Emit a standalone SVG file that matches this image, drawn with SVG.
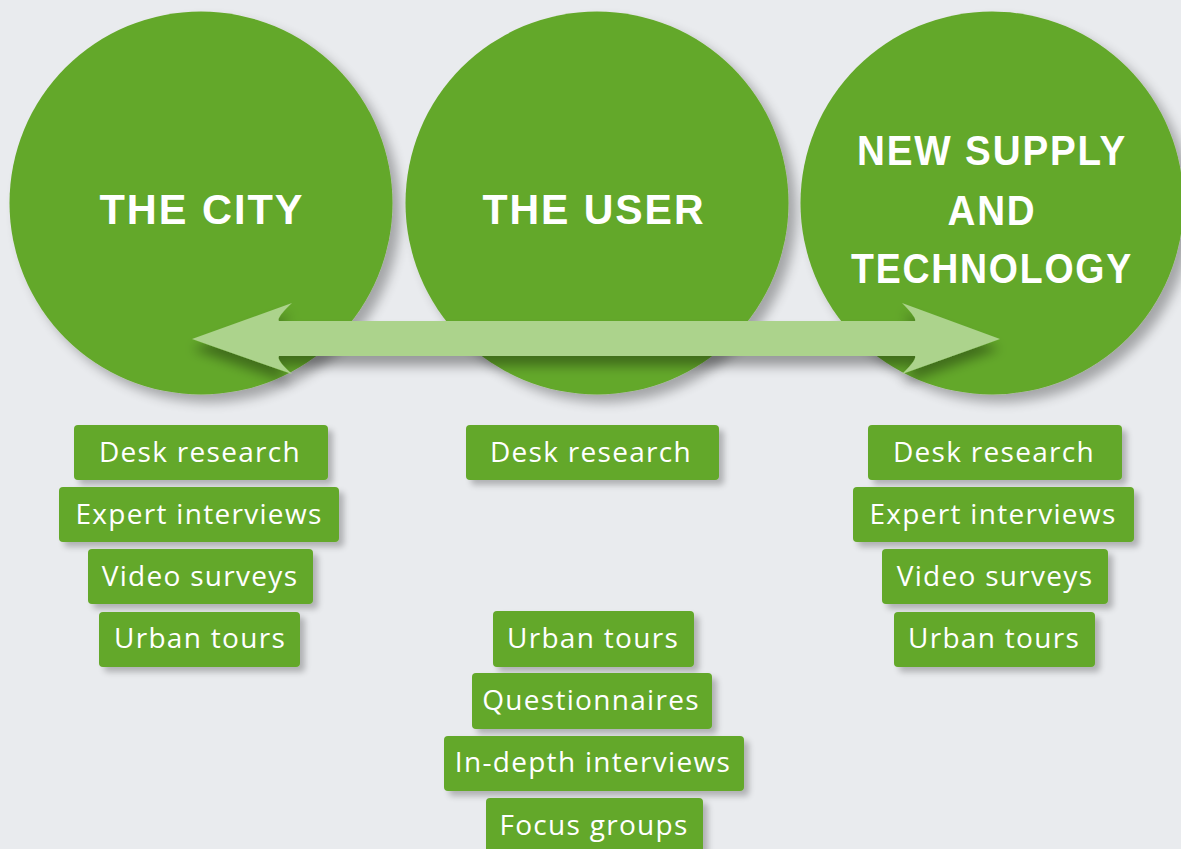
<svg xmlns="http://www.w3.org/2000/svg" width="1181" height="849" viewBox="0 0 1181 849">
<defs>
<style>
.bg{fill:#e9ebee}
.circ{fill:#64a829}
.box{fill:#64a829}
.title{font-family:"Liberation Sans",Arial,sans-serif;font-weight:bold;font-size:42px;letter-spacing:2px;fill:#fff;text-anchor:middle}
.lbl{font-family:"Open Sans","Liberation Sans",Arial,sans-serif;font-size:28px;letter-spacing:1.3px;fill:#fff;text-anchor:middle}
.arrow{fill:#acd38c}
</style>
<filter id="shC" x="-20%" y="-20%" width="150%" height="150%">
<feGaussianBlur in="SourceAlpha" stdDeviation="6"/>
<feOffset dx="8" dy="8" result="b"/>
<feComponentTransfer><feFuncA type="linear" slope="0.3"/></feComponentTransfer>
<feMerge><feMergeNode/><feMergeNode in="SourceGraphic"/></feMerge>
</filter>
<filter id="shB" x="-20%" y="-40%" width="150%" height="200%">
<feGaussianBlur in="SourceAlpha" stdDeviation="3"/>
<feOffset dx="5" dy="5" result="b"/>
<feComponentTransfer><feFuncA type="linear" slope="0.25"/></feComponentTransfer>
<feMerge><feMergeNode/><feMergeNode in="SourceGraphic"/></feMerge>
</filter>
<filter id="shA" x="-10%" y="-50%" width="120%" height="250%">
<feGaussianBlur in="SourceAlpha" stdDeviation="6"/>
<feOffset dx="0" dy="10" result="b"/>
<feComponentTransfer><feFuncA type="linear" slope="0.35"/></feComponentTransfer>
<feMerge><feMergeNode/><feMergeNode in="SourceGraphic"/></feMerge>
</filter>
</defs>
<rect class="bg" x="0" y="0" width="1181" height="849"/>

<g id="city">
<circle class="circ" cx="201" cy="203" r="191.5" filter="url(#shC)"/>
<text class="title" x="202" y="224" textLength="205" lengthAdjust="spacingAndGlyphs">THE CITY</text>
</g>
<g id="user">
<circle class="circ" cx="597" cy="203" r="191.5" filter="url(#shC)"/>
<text class="title" x="594" y="224" textLength="223" lengthAdjust="spacingAndGlyphs">THE USER</text>
</g>
<g id="supply">
<circle class="circ" cx="992" cy="203" r="191.5" filter="url(#shC)"/>
<text class="title" x="992" y="165" textLength="270" lengthAdjust="spacingAndGlyphs">NEW SUPPLY</text>
<text class="title" x="992" y="225" textLength="89" lengthAdjust="spacingAndGlyphs">AND</text>
<text class="title" x="992" y="283" textLength="282" lengthAdjust="spacingAndGlyphs">TECHNOLOGY</text>
</g>

<g id="connectors">
<path class="arrow" filter="url(#shA)" d="M192,339 L292,303 Q276,318 279,321 L915,321 Q917,318 902,303 L1000,339 L902,374 Q917,360 915,356 L279,356 Q276,360 292,374 Z"/>
</g>

<g id="city-methods">
<g id="city-desk"><rect class="box" x="74" y="425" width="254" height="55" rx="4" filter="url(#shB)"/><text class="lbl" x="200" y="462">Desk research</text></g>
<g id="city-expert"><rect class="box" x="59" y="487" width="280" height="55" rx="4" filter="url(#shB)"/><text class="lbl" x="199" y="524">Expert interviews</text></g>
<g id="city-video"><rect class="box" x="88" y="549" width="225" height="55" rx="4" filter="url(#shB)"/><text class="lbl" x="200" y="586">Video surveys</text></g>
<g id="city-urban"><rect class="box" x="99" y="612" width="201" height="55" rx="4" filter="url(#shB)"/><text class="lbl" x="200" y="648">Urban tours</text></g>
</g>

<g id="user-methods">
<g id="user-desk"><rect class="box" x="466" y="425" width="253" height="55" rx="4" filter="url(#shB)"/><text class="lbl" x="591" y="462">Desk research</text></g>
<g id="user-urban"><rect class="box" x="493" y="611" width="201" height="56" rx="4" filter="url(#shB)"/><text class="lbl" x="593" y="648">Urban tours</text></g>
<g id="user-quest"><rect class="box" x="472" y="673" width="240" height="56" rx="4" filter="url(#shB)"/><text class="lbl" x="591" y="710">Questionnaires</text></g>
<g id="user-indepth"><rect class="box" x="444" y="736" width="300" height="55" rx="4" filter="url(#shB)"/><text class="lbl" x="593" y="772">In-depth interviews</text></g>
<g id="user-focus"><rect class="box" x="486" y="798" width="217" height="60" rx="4" filter="url(#shB)"/><text class="lbl" x="594" y="835">Focus groups</text></g>
</g>

<g id="supply-methods">
<g id="supply-desk"><rect class="box" x="868" y="425" width="254" height="55" rx="4" filter="url(#shB)"/><text class="lbl" x="994" y="462">Desk research</text></g>
<g id="supply-expert"><rect class="box" x="853" y="487" width="281" height="55" rx="4" filter="url(#shB)"/><text class="lbl" x="993" y="524">Expert interviews</text></g>
<g id="supply-video"><rect class="box" x="882" y="549" width="226" height="55" rx="4" filter="url(#shB)"/><text class="lbl" x="995" y="586">Video surveys</text></g>
<g id="supply-urban"><rect class="box" x="894" y="612" width="201" height="55" rx="4" filter="url(#shB)"/><text class="lbl" x="994" y="648">Urban tours</text></g>
</g>
</svg>
